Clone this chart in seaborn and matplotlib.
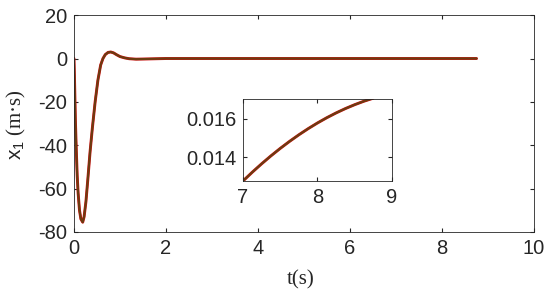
import numpy as np
import matplotlib
matplotlib.use("Agg")
import matplotlib.pyplot as plt
import seaborn as sns
import pandas as pd

# main response x1(t)
t = [0, 0.01, 0.03, 0.05, 0.07, 0.09, 0.12, 0.15, 0.19, 0.22, 0.26, 0.30, 0.35,
     0.40, 0.46, 0.52, 0.58, 0.63, 0.68, 0.74, 0.80, 0.86, 0.93, 1.0, 1.1, 1.2,
     1.35, 1.6, 2.0, 8.75]
x1 = [0, -8, -28, -42, -54, -62, -70, -74, -75.5, -73, -66, -56, -43,
      -32, -20, -10, -3, 0, 1.8, 2.8, 3.0, 2.6, 1.7, 0.9, 0.3, -0.1,
      -0.3, -0.2, 0, 0]

# zoomed part 7..9 s
t_zoom = [7.0, 7.125, 7.25, 7.375, 7.5, 7.625, 7.75, 7.875, 8.0, 8.125, 8.25,
          8.375, 8.5, 8.625, 8.75]
x1_zoom = [0.01274, 0.013203, 0.013643, 0.01406, 0.014453, 0.014822, 0.015168,
           0.015491, 0.01579, 0.016066, 0.016318, 0.016547, 0.016752, 0.016935,
           0.017093]

sns.set_style("ticks")
plt.rcParams['font.family'] = ['Liberation Sans', 'DejaVu Sans']
plt.rcParams['mathtext.fontset'] = 'custom'
plt.rcParams['mathtext.sf'] = 'Liberation Sans'
plt.rcParams['mathtext.rm'] = 'Liberation Serif'
plt.rcParams['xtick.direction'] = 'in'
plt.rcParams['ytick.direction'] = 'in'

df = pd.DataFrame({'t': t, 'x1': x1})
dz = pd.DataFrame({'t': t_zoom, 'x1': x1_zoom})

red = '#d01010'
brown = '#6a3c10'
grey = '#262626'

fig = plt.figure(figsize=(5.5, 2.97), dpi=100)
ax = fig.add_axes([0.1345, 0.219, 0.8365, 0.730])
sns.lineplot(data=df, x='t', y='x1', ax=ax, color=red, lw=2.1)
sns.lineplot(data=df, x='t', y='x1', ax=ax, color=brown, lw=1.5)
ax.set_xlim(0, 10)
ax.set_ylim(-80, 20)
ax.set_xticks([0, 2, 4, 6, 8, 10])
ax.set_yticks([-80, -60, -40, -20, 0, 20])
ax.set_yticklabels(['-80', '-60', '-40', '-20', '0', '20'])
ax.tick_params(labelsize=14.5, top=True, right=True, length=3, pad=5,
               color=grey, labelcolor=grey)
ax.set_xlabel('t(s)', fontsize=15, family='Liberation Serif', color=grey)
ax.set_ylabel(r'$\mathsf{x_1}$ (m·s)', fontsize=15, family='Liberation Serif', color=grey)
ax.xaxis.set_label_coords(0.493, -0.175)
ax.yaxis.set_label_coords(-0.1, 0.493)
for s in ax.spines.values():
    s.set_color(grey)
    s.set_linewidth(0.6)

axi = fig.add_axes([0.4418, 0.3906, 0.2709, 0.2761])
sns.lineplot(data=dz, x='t', y='x1', ax=axi, color=red, lw=2.1)
sns.lineplot(data=dz, x='t', y='x1', ax=axi, color=brown, lw=1.5)
axi.set_xlim(7, 9)
axi.set_ylim(0.01274, 0.01705)
axi.set_xticks([7, 8, 9])
axi.set_yticks([0.014, 0.016])
axi.set_yticklabels(['0.014', '0.016'])
axi.set_xlabel('')
axi.set_ylabel('')
axi.tick_params(labelsize=14.5, top=True, right=True, length=3, pad=5,
                color=grey, labelcolor=grey)
for s in axi.spines.values():
    s.set_color(grey)
    s.set_linewidth(0.6)

fig.savefig('out.png', dpi=100)
